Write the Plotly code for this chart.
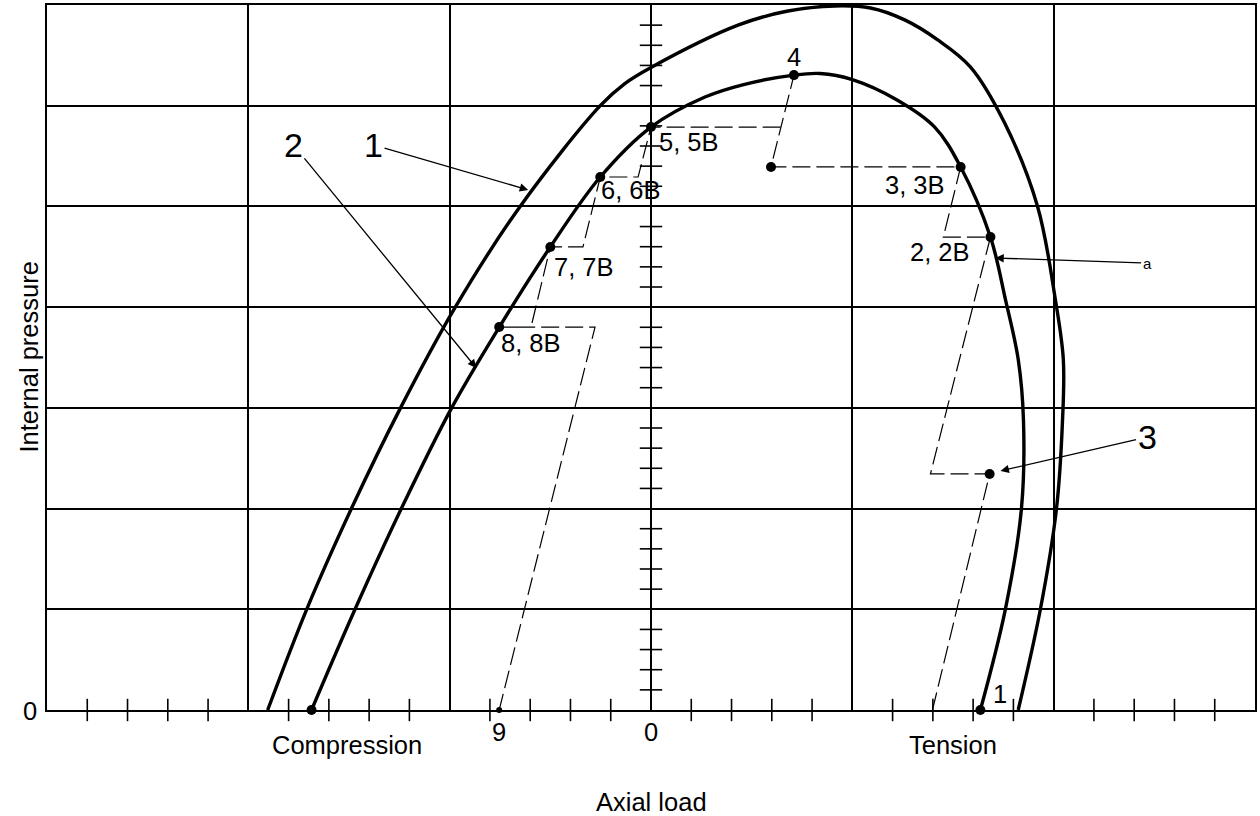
import plotly.graph_objects as go

# Outer envelope (curve 1) and inner envelope (curve 2): axial load vs internal pressure
outer_load = [-9.52, -8.55, -7.44, -6.22, -4.86, -3.25, -1.26, -0.65, 0.0, 2.16, 3.4,
              4.56, 5.45, 6.3, 7.12, 7.93, 8.78, 9.6, 10.04, 10.24, 10.22, 10.07, 9.67, 9.12]
outer_pressure = [0, 5, 10, 15, 20, 25, 30, 31.1, 31.9, 34.0, 34.7,
                  34.95, 34.85, 34.26, 33.27, 31.93, 29.15, 25, 20.4, 17.4, 14.4, 10, 5, 0]

inner_load = [-8.43, -7.35, -6.2, -4.95, -3.77, -2.5, -1.26, 0.0, 1.34, 2.3, 3.55,
              4.2, 5.0, 6.1, 7.04, 7.69, 8.43, 8.8, 9.12, 9.25, 9.2, 8.8, 8.18]
inner_pressure = [0, 5, 10, 15, 19.0, 22.99, 26.46, 28.94, 30.43, 31.05, 31.52,
                  31.6, 31.3, 30.3, 28.95, 26.96, 23.48, 20.4, 17.4, 14.4, 10.0, 5.0, 0]

# Load path (dashed), split into segments
path_load = [6.99, 8.41, 6.94, 8.43, 7.26, 7.69, 2.98, 3.55, None,
             3.22, 0.0, -0.32, -1.26, -1.69, -2.5, -2.98, -3.77, -1.39, -3.77]
path_pressure = [0, 11.72, 11.72, 23.48, 23.48, 26.96, 26.96, 31.52, None,
                 28.94, 28.94, 26.46, 26.46, 22.99, 22.99, 19.01, 19.01, 19.01, 0]

# Load points
pt_names = ["1", "2, 2B", "3, 3B", "4", "5, 5B", "6, 6B", "7, 7B", "8, 8B"]
pt_load = [8.18, 8.43, 7.69, 3.55, 0.0, -1.26, -2.5, -3.77]
pt_pressure = [0, 23.48, 26.96, 31.52, 28.94, 26.46, 22.99, 19.01]
# label offsets in pixels (dx right, dy down)
pt_dx = [20, -50, -46, 0, 38, 31, 34, 32]
pt_dy = [-16, 15, 18, -18, 15, 13, 20, 16]

extra_load = [-8.43, 8.41, 2.98]
extra_pressure = [0, 11.72, 26.96]

pt9_load = [-3.77]
pt9_pressure = [0]

x_minor = [v for v in range(-14, 15) if v % 5 != 0]
y_minor = [v for v in range(1, 35) if v % 5 != 0]

FONT = "Liberation Sans, Arial, sans-serif"
CALLOUT_FONT = "Liberation Sans Narrow, Liberation Sans, Arial, sans-serif"
FS = 25.5

fig = go.Figure()

# minor tick marks crossing both axes
fig.add_trace(go.Scatter(x=x_minor, y=[0] * len(x_minor), mode="markers", cliponaxis=False,
                         marker=dict(symbol="line-ns", size=16, line=dict(color="black", width=1.6)),
                         hoverinfo="skip"))
fig.add_trace(go.Scatter(x=[0] * len(y_minor), y=y_minor, mode="markers", cliponaxis=False,
                         marker=dict(symbol="line-ew", size=16, line=dict(color="black", width=1.6)),
                         hoverinfo="skip"))

fig.add_trace(go.Scatter(x=path_load, y=path_pressure, mode="lines", cliponaxis=False,
                         line=dict(color="black", width=1.2, dash="18px,6px"), connectgaps=False))

fig.add_trace(go.Scatter(x=outer_load, y=outer_pressure, mode="lines", cliponaxis=False,
                         line=dict(color="black", width=3.4, shape="spline", smoothing=1.0)))
fig.add_trace(go.Scatter(x=inner_load, y=inner_pressure, mode="lines", cliponaxis=False,
                         line=dict(color="black", width=3.4, shape="spline", smoothing=1.0)))

fig.add_trace(go.Scatter(x=pt_load + extra_load, y=pt_pressure + extra_pressure, mode="markers",
                         cliponaxis=False, marker=dict(color="black", size=10)))
fig.add_trace(go.Scatter(x=pt9_load, y=pt9_pressure, mode="markers", cliponaxis=False,
                         marker=dict(color="black", size=6)))

annotations = []
for name, xv, yv, dx, dy in zip(pt_names, pt_load, pt_pressure, pt_dx, pt_dy):
    annotations.append(dict(x=xv, y=yv, text=name, showarrow=False, xanchor="center",
                            yanchor="middle", xshift=dx, yshift=-dy,
                            font=dict(family=FONT, size=FS, color="black")))
annotations.append(dict(x=pt9_load[0], y=0, text="9", showarrow=False, xanchor="center",
                        yanchor="middle", yshift=-22, font=dict(family=FONT, size=FS, color="black")))
annotations.append(dict(x=0, y=0, text="0", showarrow=False, xanchor="center",
                        yanchor="middle", yshift=-22, font=dict(family=FONT, size=FS, color="black")))
annotations.append(dict(x=-15, y=0, text="0", showarrow=False, xanchor="center",
                        yanchor="middle", xshift=-17, yshift=-1, font=dict(family=FONT, size=FS, color="black")))
annotations.append(dict(x=-7.54, y=0, text="Compression", showarrow=False, xanchor="center",
                        yanchor="middle", yshift=-35, font=dict(family=FONT, size=FS, color="black")))
annotations.append(dict(x=7.49, y=0, text="Tension", showarrow=False, xanchor="center",
                        yanchor="middle", yshift=-35, font=dict(family=FONT, size=FS, color="black")))
annotations.append(dict(x=0.5, y=0, xref="paper", yref="paper", text="Axial load", showarrow=False,
                        xanchor="center", yanchor="middle", yshift=-92,
                        font=dict(family=FONT, size=FS, color="black")))
annotations.append(dict(x=0, y=0.5, xref="paper", yref="paper", text="Internal pressure",
                        showarrow=False, textangle=-90, xanchor="center", yanchor="middle",
                        xshift=-19, font=dict(family=FONT, size=FS, color="black")))

# callouts with leader arrows
callouts = [
    ("1", -3.05, 25.82, -6.89, 28.05, 34),
    ("2", -4.34, 16.98, -8.88, 28.05, 34),
    ("3", 8.68, 11.87, 12.32, 13.55, 34),
    ("a", 8.55, 22.44, 12.32, 22.19, 15),
]
for text, tx, ty, lx, ly, size in callouts:
    annotations.append(dict(x=tx, y=ty, ax=lx, ay=ly, axref="x", ayref="y", text=text,
                            showarrow=True, arrowhead=2, arrowsize=1.3, arrowwidth=1.3,
                            arrowcolor="black", standoff=0, startstandoff=0,
                            font=dict(family=CALLOUT_FONT, size=size, color="black")))

fig.update_layout(
    width=1260, height=816,
    margin=dict(l=47, r=3, t=5, b=106),
    paper_bgcolor="white", plot_bgcolor="white",
    showlegend=False,
    annotations=annotations,
    xaxis=dict(range=[-15, 15], tick0=0, dtick=5, showgrid=True, gridcolor="black", gridwidth=1.6,
               zeroline=True, zerolinecolor="black", zerolinewidth=2.4,
               showline=True, linecolor="black", linewidth=2, mirror=True,
               showticklabels=False, ticks="", fixedrange=True),
    yaxis=dict(range=[0, 35], tick0=0, dtick=5, showgrid=True, gridcolor="black", gridwidth=1.6,
               zeroline=False, showline=True, linecolor="black", linewidth=2, mirror=True,
               showticklabels=False, ticks="", fixedrange=True),
)

fig.write_html("out.html")
